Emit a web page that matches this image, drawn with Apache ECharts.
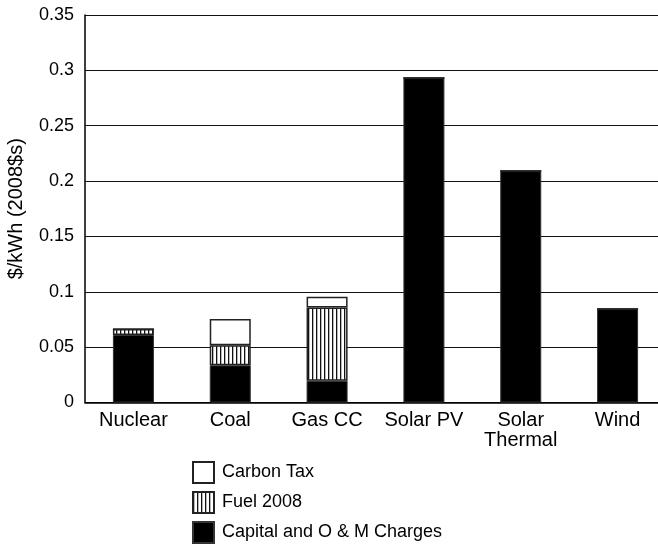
<!DOCTYPE html>
<html>
<head>
<meta charset="utf-8">
<script src="https://cdn.jsdelivr.net/npm/echarts@6/dist/echarts.min.js"></script>
<style>
  html, body { margin: 0; padding: 0; background: #fff; }
  #chart { width: 658px; height: 547px; }
</style>
</head>
<body>
<div id="chart"></div>
<script>
// Levelized cost of electricity by technology, $/kWh (2008$s)
const categories = ['Nuclear', 'Coal', 'Gas CC', 'Solar PV', 'Solar\nThermal', 'Wind'];
const capitalOM = [0.061, 0.0336, 0.0197, 0.293, 0.209, 0.0844];
const fuel2008 = [0.0055, 0.018, 0.066, 0, 0, 0];
const carbonTax = [0, 0.0238, 0.0098, 0, 0, 0];
const legendNames = ['Carbon Tax', 'Fuel 2008', 'Capital and O & M Charges'];

// Vertical-line hatch used for the fuel component
function hatchPattern() {
  const c = document.createElement('canvas');
  c.width = 4; c.height = 4;
  const ctx = c.getContext('2d');
  ctx.fillStyle = '#fff';
  ctx.fillRect(0, 0, 4, 4);
  ctx.fillStyle = '#111';
  ctx.fillRect(0, 0, 1.3, 4);
  return c;
}

const font = 'Liberation Sans, Arial, Helvetica, sans-serif';
const chart = echarts.init(document.getElementById('chart'), null, { renderer: 'canvas' });

const barBase = {
  type: 'bar',
  stack: 'cost',
  barWidth: 41,
  animation: false
};

chart.setOption({
  backgroundColor: '#fff',
  textStyle: { fontFamily: font, color: '#000' },
  grid: { left: 85, top: 15, bottom: 144.5, right: -8, outerBoundsMode: 'none', containLabel: false },
  legend: {
    data: legendNames,
    orient: 'vertical',
    left: 192,
    top: 461,
    height: 100,
    padding: 0,
    itemWidth: 21,
    itemHeight: 21,
    itemGap: 7,
    icon: 'rect',
    textStyle: { fontSize: 18, fontFamily: font, color: '#000', padding: [0, 0, 0, 3] },
    selectedMode: false
  },
  xAxis: {
    type: 'category',
    data: categories,
    axisLine: { lineStyle: { color: '#000', width: 1.5 } },
    axisTick: { show: false },
    axisLabel: { fontSize: 20, fontFamily: font, color: '#000', margin: 8, lineHeight: 20, interval: 0 }
  },
  yAxis: {
    type: 'value',
    min: 0,
    max: 0.35,
    interval: 0.05,
    name: '$/kWh (2008$s)',
    nameLocation: 'middle',
    nameGap: 59,
    nameTextStyle: { fontSize: 20, fontFamily: font, color: '#000' },
    axisLine: { show: true, lineStyle: { color: '#000', width: 1.5 } },
    axisTick: { show: false },
    axisLabel: { fontSize: 18, fontFamily: font, color: '#000', margin: 11 },
    splitLine: { lineStyle: { color: '#111', width: 1 } }
  },
  series: [
    Object.assign({}, barBase, {
      name: 'Capital and O & M Charges',
      data: capitalOM,
      itemStyle: { color: '#000', borderColor: '#333', borderWidth: 1 }
    }),
    Object.assign({}, barBase, {
      name: 'Fuel 2008',
      data: fuel2008,
      itemStyle: { color: { image: hatchPattern(), repeat: 'repeat' }, borderColor: '#222', borderWidth: 1.5 }
    }),
    Object.assign({}, barBase, {
      name: 'Carbon Tax',
      data: carbonTax,
      itemStyle: { color: '#fff', borderColor: '#222', borderWidth: 1.5 }
    })
  ]
});
</script>
</body>
</html>
